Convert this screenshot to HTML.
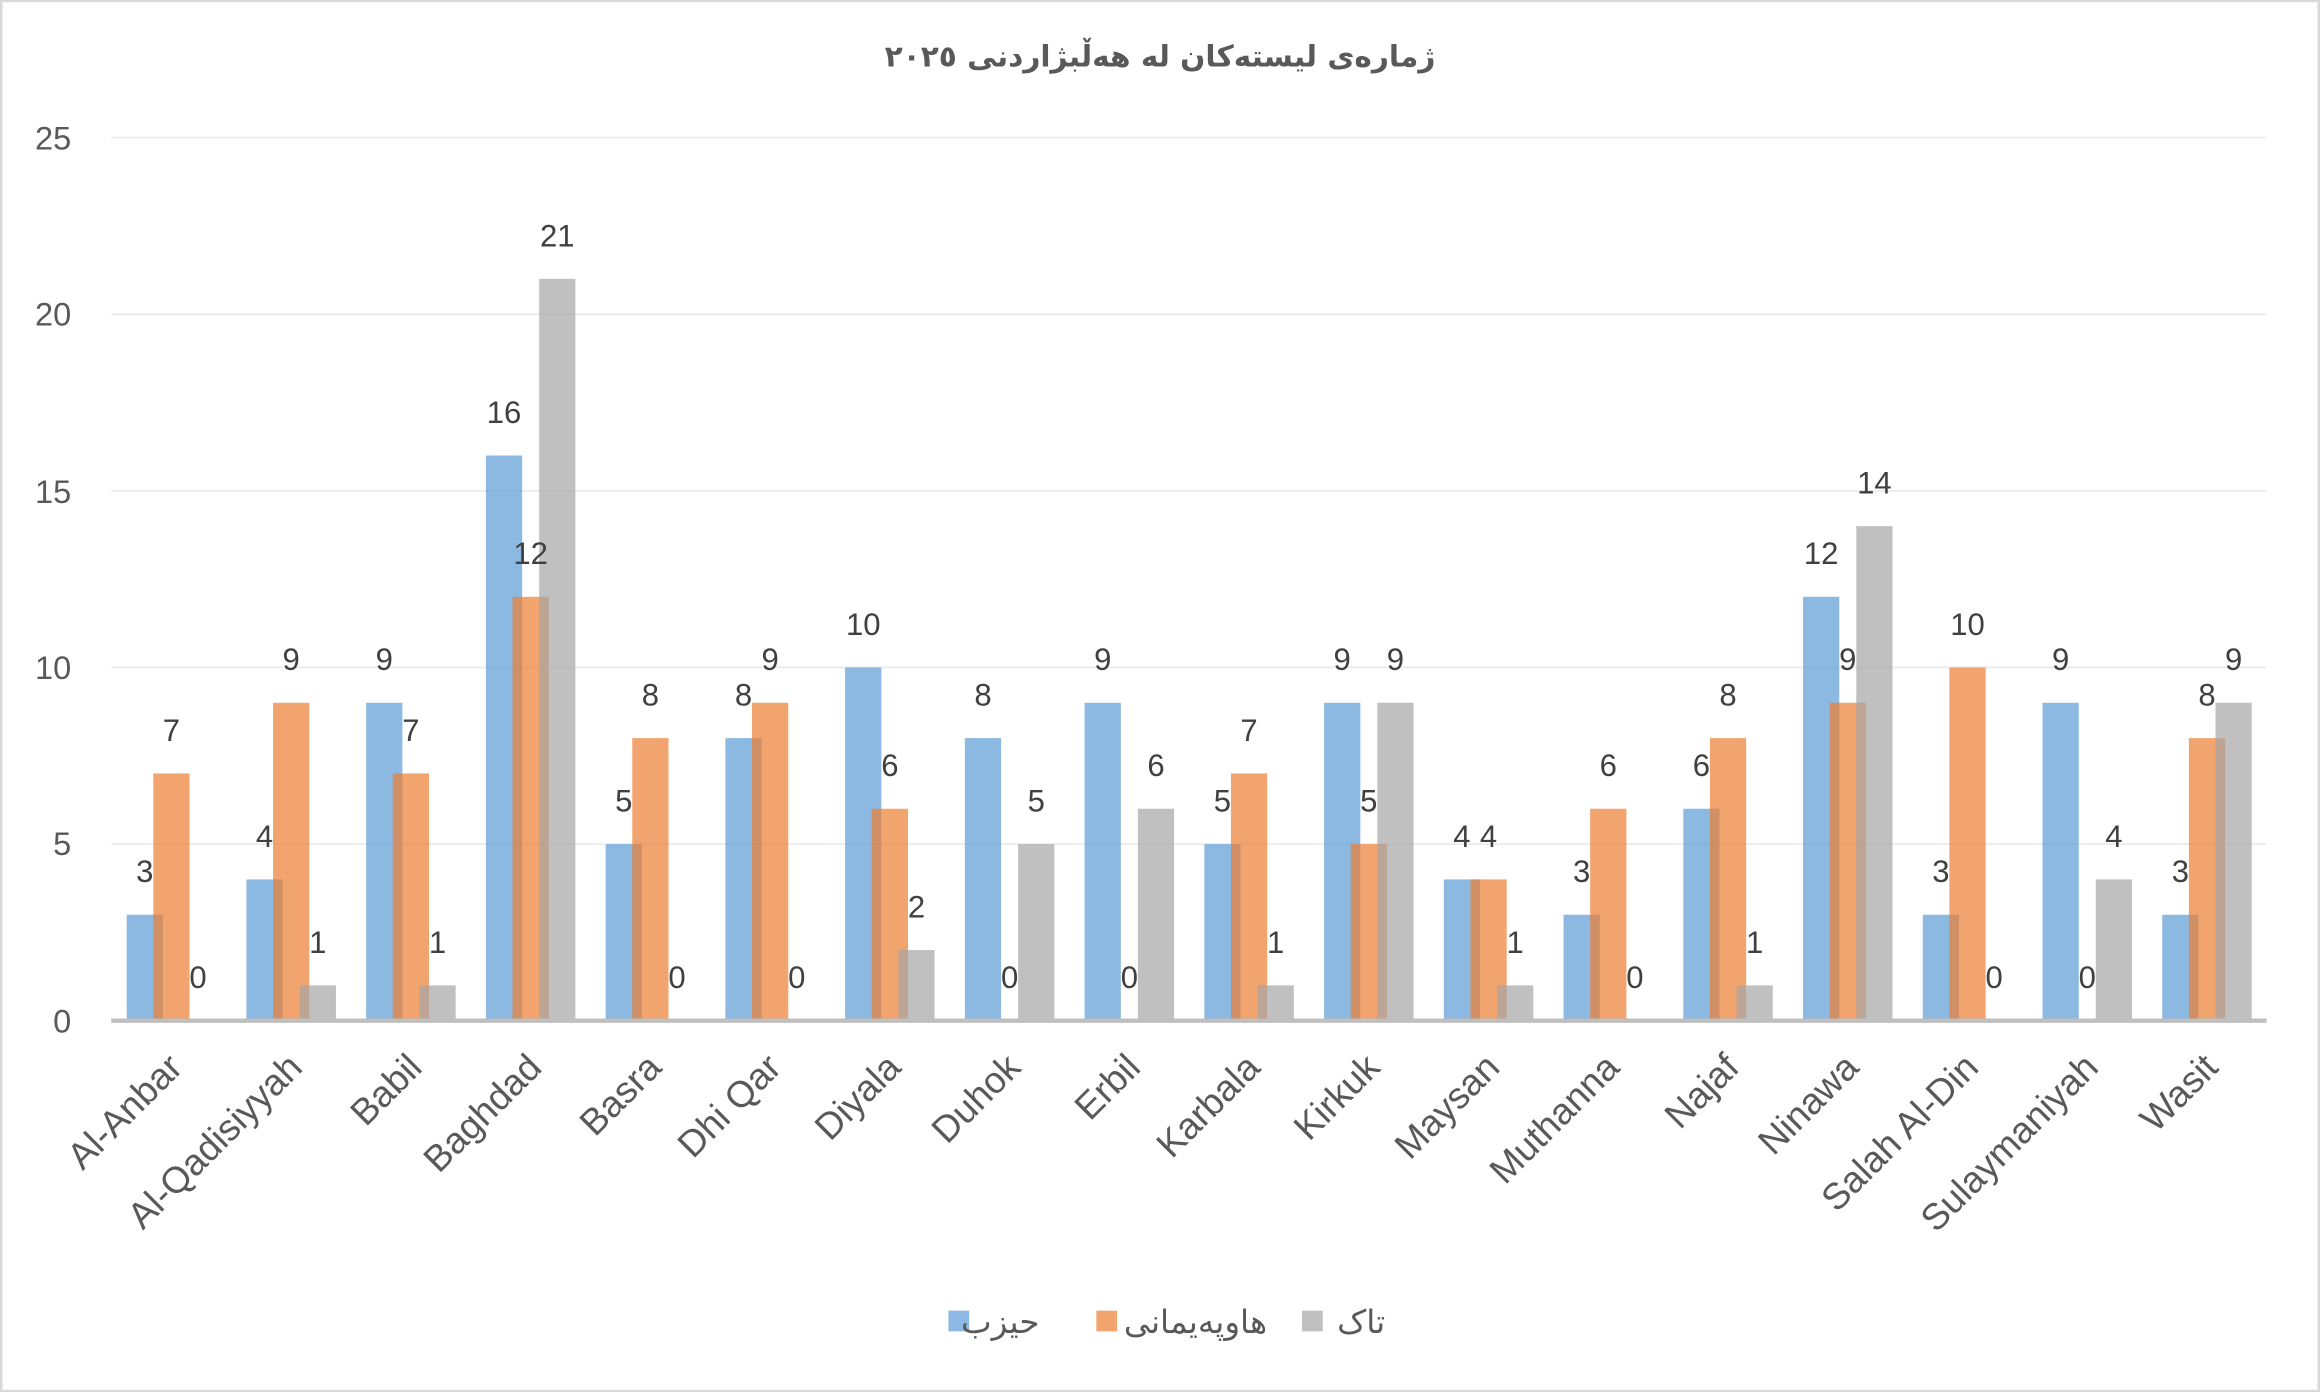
<!DOCTYPE html>
<html><head><meta charset="utf-8"><style>html,body{margin:0;padding:0;background:#fff}svg{display:block}</style></head>
<body>
<svg width="2320" height="1392" viewBox="0 0 1568 941" xmlns="http://www.w3.org/2000/svg" font-family="'Liberation Sans','Noto Sans CJK SC',sans-serif">
<rect x="0.5" y="0.5" width="1567" height="940" fill="#fff" stroke="#d9d9d9" stroke-width="2"/>
<text x="784" y="45" text-anchor="middle" font-size="20" font-weight="bold" fill="#595959" style="direction:rtl;unicode-bidi:embed" font-family="'DejaVu Sans',sans-serif">ژمارەی لیستەکان لە هەڵبژاردنی ٢٠٢٥</text>
<g stroke="#ebebeb" stroke-width="1.2">
<line x1="75" x2="1532" y1="93" y2="93"/><line x1="75" x2="1532" y1="212.4" y2="212.4"/><line x1="75" x2="1532" y1="331.8" y2="331.8"/><line x1="75" x2="1532" y1="451.2" y2="451.2"/><line x1="75" x2="1532" y1="570.6" y2="570.6"/>
</g>
<g font-size="22" fill="#595959" text-anchor="end">
<text x="48" y="101">25</text><text x="48" y="220">20</text><text x="48" y="340">15</text><text x="48" y="459">10</text><text x="48" y="578">5</text><text x="48" y="698">0</text>
</g>
<g id="bars"></g>
<line x1="75" x2="1532" y1="690" y2="690" stroke="#bfbfbf" stroke-width="3"/>
<g id="labels" font-size="21" fill="#404040" text-anchor="middle"></g>
<g id="cats" font-size="25" fill="#595959" text-anchor="end"></g>
<rect x="641" y="886" width="14" height="14" fill="#8cb8e3"/>
<text x="676" y="901" font-size="22" fill="#595959" text-anchor="middle" style="direction:rtl" font-family="'DejaVu Sans',sans-serif">حیزب</text>
<rect x="741" y="886" width="14" height="14" fill="#f2a46f"/>
<text x="808" y="901" font-size="22" fill="#595959" text-anchor="middle" style="direction:rtl" font-family="'DejaVu Sans',sans-serif">هاوپەیمانی</text>
<rect x="880" y="886" width="14" height="14" fill="#c0c0c0"/>
<text x="920" y="901" font-size="22" fill="#595959" text-anchor="middle" style="direction:rtl" font-family="'DejaVu Sans',sans-serif">تاک</text>
<script>
var d=[["Al-Anbar",3,7,0],["Al-Qadisiyyah",4,9,1],["Babil",9,7,1],["Baghdad",16,12,21],["Basra",5,8,0],["Dhi Qar",8,9,0],["Diyala",10,6,2],["Duhok",8,0,5],["Erbil",9,0,6],["Karbala",5,7,1],["Kirkuk",9,5,9],["Maysan",4,4,1],["Muthanna",3,6,0],["Najaf",6,8,1],["Ninawa",12,9,14],["Salah Al-Din",3,10,0],["Sulaymaniyah",9,0,4],["Wasit",3,8,9]];
var ns="http://www.w3.org/2000/svg",cols=["#5b9bd5","#ed7d31","#a5a5a5"],off=[-30,-12,6],w=24.5,u=23.88,base=690;
var B=document.getElementById("bars"),L=document.getElementById("labels"),C=document.getElementById("cats");
function el(t,a,p){var e=document.createElementNS(ns,t);for(var k in a)e.setAttribute(k,a[k]);p.appendChild(e);return e;}
d.forEach(function(r,i){var cx=75+(i+0.5)*1457/18;
for(var s=0;s<3;s++){var v=r[s+1],x=cx+off[s],h=v*u;
if(v>0)el("rect",{x:x,y:base-h,width:w,height:h,fill:cols[s],"fill-opacity":0.7},B);
var t=el("text",{x:x+w/2,y:base-h-22},L);t.textContent=v;}
var c=el("text",{transform:"translate("+(cx+9)+",723) rotate(-45)"},C);c.textContent=r[0];});
</script>
</svg>
</body></html>
